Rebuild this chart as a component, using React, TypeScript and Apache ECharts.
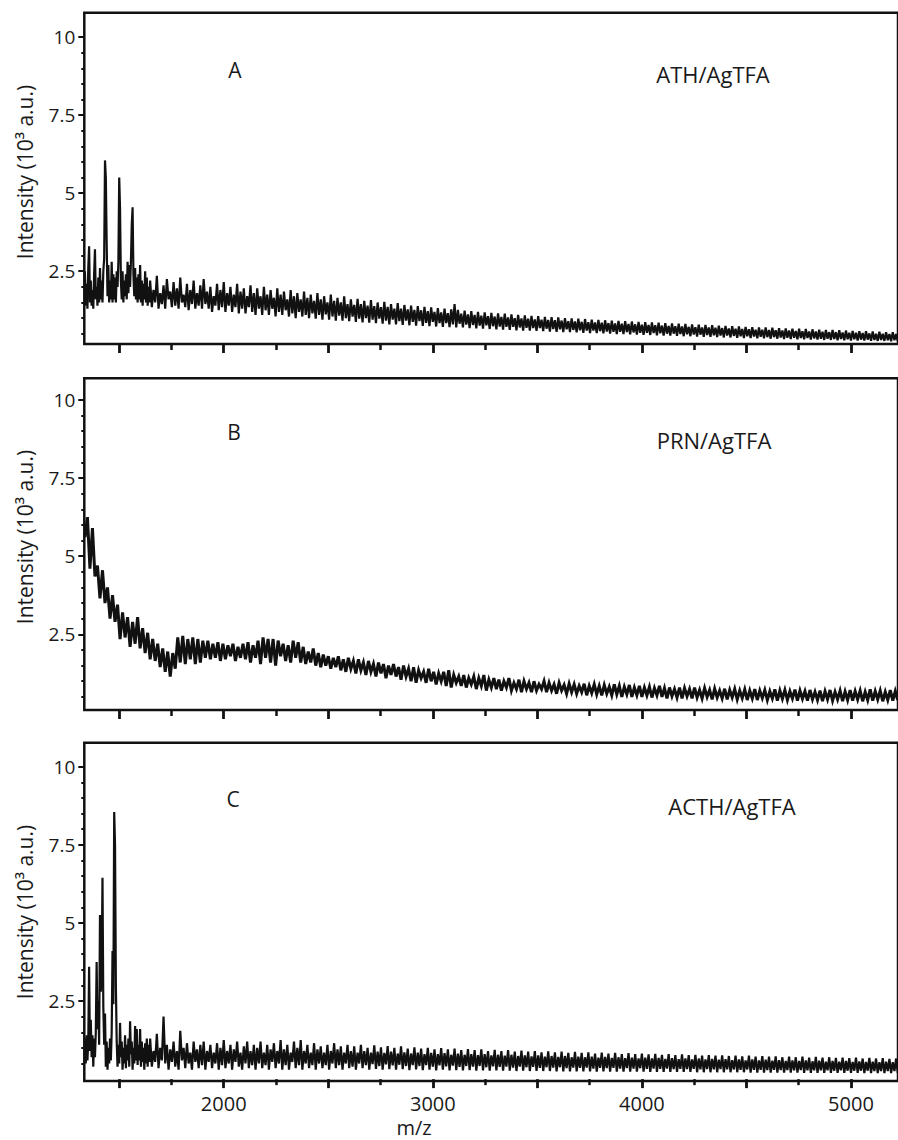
import React, { useEffect, useRef } from "react";
import * as echarts from "echarts";

// Each spectrum is stored as segments on a regular m/z grid:
// value k of a segment sits at start + k * step (m/z).
const LOW_MZ_START = 1336; // fine grid for the peak region
const LOW_MZ_STEP = 4;
const HIGH_MZ_START = 1648; // grid above the peak region
const HIGH_MZ_STEP = 8;
const B_MZ_START = 1336;
const B_MZ_STEP = 12;

// Panel A: ATH/AgTFA intensity (10^3 a.u.), 1336-1644 step 4
const intensityA_low = [
  2.5, 1.4, 2.1, 1.3, 2.6, 3.3, 1.5, 2.2, 1.4, 1.9,
  1.3, 2.4, 3.2, 1.6, 2.0, 1.4, 2.3, 1.5, 2.6, 1.6,
  2.2, 1.5, 2.5, 2.9, 6.05, 5.5, 3.4, 1.7, 2.7, 1.5,
  2.2, 1.6, 2.8, 1.5, 2.4, 1.6, 2.3, 1.5, 2.5, 2.0,
  2.8, 5.5, 4.5, 2.2, 1.6, 2.5, 1.5, 2.2, 1.7, 2.4,
  1.6, 2.8, 1.8, 2.7, 2.0, 2.8, 4.0, 4.55, 2.4, 1.7,
  2.6, 1.6, 2.3, 1.5, 2.4, 1.6, 2.7, 1.5, 2.2, 1.4,
  2.1, 1.6, 2.5, 1.5, 2.3, 1.4, 2.0, 1.5,
];
// Panel A, 1648-5224 step 8
const intensityA_high = [
  2.2, 1.35, 1.9, 1.5, 2.35, 1.3, 1.8, 1.45, 2.05, 1.3, 2.25, 1.6, 1.85, 1.35, 2.15, 1.4,
  1.95, 1.3, 2.3, 1.5, 1.75, 1.35, 2.1, 1.25, 1.9, 1.45, 2.2, 1.3, 1.8, 1.4, 2.05, 1.3,
  2.25, 1.45, 1.85, 1.3, 2.0, 1.2, 1.7, 1.4, 2.1, 1.25, 1.9, 1.35, 2.15, 1.2, 1.8, 1.4,
  2.0, 1.2, 1.75, 1.35, 2.1, 1.15, 1.85, 1.3, 1.95, 1.15, 1.7, 1.35, 2.05, 1.2, 1.8, 1.1,
  1.95, 1.3, 1.7, 1.1, 2.0, 1.25, 1.75, 1.1, 1.9, 1.3, 1.65, 1.05, 1.95, 1.2, 1.75, 1.1,
  1.85, 1.25, 1.6, 1.05, 1.9, 1.15, 1.7, 1.0, 1.8, 1.2, 1.6, 1.05, 1.85, 1.1, 1.65, 1.0,
  1.75, 1.15, 1.55, 0.98, 1.8, 1.1, 1.6, 0.95, 1.7, 1.12, 1.5, 0.95, 1.75, 1.05, 1.55, 0.92,
  1.65, 1.08, 1.5, 0.92, 1.7, 1.0, 1.45, 0.9, 1.6, 1.05, 1.42, 0.88, 1.62, 0.98, 1.45, 0.86,
  1.55, 1.0, 1.4, 0.85, 1.58, 0.95, 1.38, 0.84, 1.5, 0.98, 1.35, 0.82, 1.52, 0.92, 1.36, 0.8,
  1.45, 0.95, 1.3, 0.8, 1.48, 0.9, 1.3, 0.78, 1.42, 0.92, 1.28, 0.77, 1.4, 0.88, 1.26, 0.76,
  1.38, 0.9, 1.25, 0.75, 1.36, 0.85, 1.22, 0.74, 1.34, 0.88, 1.2, 0.73, 1.32, 0.84, 1.18, 0.72,
  1.3, 0.84, 1.16, 0.71, 1.28, 0.8, 1.45, 0.7, 1.26, 0.82, 1.14, 0.7, 1.24, 0.79, 1.12, 0.68,
  1.22, 0.78, 1.1, 0.67, 1.2, 0.76, 1.08, 0.66, 1.18, 0.77, 1.06, 0.65, 1.17, 0.74, 1.05, 0.64,
  1.15, 0.73, 1.04, 0.63, 1.14, 0.72, 1.02, 0.62, 1.12, 0.72, 1.0, 0.61, 1.1, 0.7, 0.99, 0.6,
  1.09, 0.69, 0.98, 0.6, 1.07, 0.68, 0.96, 0.59, 1.06, 0.68, 0.95, 0.58, 1.04, 0.66, 0.94, 0.57,
  1.03, 0.65, 0.93, 0.56, 1.02, 0.64, 0.92, 0.55, 1.0, 0.64, 0.9, 0.55, 0.99, 0.62, 0.89, 0.54,
  0.98, 0.61, 0.88, 0.53, 0.97, 0.6, 0.87, 0.52, 0.95, 0.6, 0.86, 0.52, 0.94, 0.58, 0.85, 0.51,
  0.93, 0.57, 0.84, 0.5, 0.92, 0.56, 0.83, 0.49, 0.91, 0.56, 0.82, 0.49, 0.9, 0.55, 0.81, 0.48,
  0.89, 0.54, 0.8, 0.47, 0.88, 0.53, 0.79, 0.46, 0.87, 0.53, 0.78, 0.46, 0.86, 0.52, 0.77, 0.45,
  0.85, 0.51, 0.76, 0.44, 0.84, 0.5, 0.75, 0.44, 0.83, 0.5, 0.74, 0.43, 0.82, 0.49, 0.73, 0.42,
  0.81, 0.48, 0.72, 0.42, 0.8, 0.47, 0.71, 0.41, 0.79, 0.47, 0.7, 0.4, 0.78, 0.46, 0.7, 0.4,
  0.77, 0.45, 0.69, 0.39, 0.76, 0.44, 0.68, 0.38, 0.75, 0.44, 0.67, 0.38, 0.74, 0.43, 0.66, 0.37,
  0.73, 0.42, 0.65, 0.36, 0.72, 0.42, 0.64, 0.36, 0.71, 0.41, 0.63, 0.35, 0.7, 0.4, 0.63, 0.35,
  0.7, 0.39, 0.62, 0.34, 0.69, 0.39, 0.61, 0.34, 0.68, 0.38, 0.6, 0.33, 0.67, 0.37, 0.6, 0.33,
  0.66, 0.37, 0.59, 0.32, 0.66, 0.36, 0.58, 0.32, 0.65, 0.36, 0.57, 0.31, 0.64, 0.35, 0.57, 0.31,
  0.63, 0.34, 0.56, 0.3, 0.62, 0.34, 0.55, 0.3, 0.62, 0.33, 0.55, 0.29, 0.61, 0.33, 0.54, 0.29,
  0.6, 0.32, 0.53, 0.28, 0.59, 0.32, 0.53, 0.28, 0.58, 0.31, 0.52, 0.28, 0.58, 0.31, 0.51, 0.27,
  0.57, 0.3, 0.5, 0.27, 0.56, 0.3, 0.5, 0.27, 0.55, 0.29, 0.49, 0.26, 0.55, 0.29, 0.49, 0.26,
];

// Panel B: PRN/AgTFA intensity (10^3 a.u.), 1336-5224 step 12
const intensityB = [
  5.6, 6.25, 4.6, 5.9, 4.35, 4.7, 3.65, 4.55, 3.5, 4.0,
  3.0, 3.75, 2.9, 3.45, 2.35, 3.2, 2.4, 3.05, 2.1, 2.9,
  2.2, 3.05, 2.05, 2.7, 1.9, 2.55, 1.7, 2.35, 1.65, 2.2,
  1.45, 2.05, 1.3, 1.95, 1.15, 1.9, 1.4, 2.4, 1.6, 2.45,
  1.55, 2.35, 1.7, 2.4, 1.55, 2.35, 1.6, 2.3, 1.75, 2.3,
  1.7, 2.2, 1.75, 2.25, 1.65, 2.2, 1.7, 2.15, 1.8, 2.2,
  1.65, 2.1, 1.75, 2.2, 1.7, 2.25, 1.6, 2.15, 1.75, 2.3,
  1.55, 2.4, 1.75, 2.35, 1.6, 2.35, 1.5, 2.3, 1.8, 2.2,
  1.65, 2.15, 1.6, 2.3, 1.75, 2.25, 1.6, 2.1, 1.55, 1.95,
  1.6, 2.05, 1.5, 1.9, 1.45, 1.85, 1.5, 1.8, 1.4, 1.75,
  1.45, 1.8, 1.35, 1.7, 1.3, 1.75, 1.4, 1.65, 1.25, 1.7,
  1.35, 1.6, 1.2, 1.65, 1.3, 1.55, 1.15, 1.6, 1.25, 1.55,
  1.1, 1.5, 1.2, 1.55, 1.15, 1.45, 1.05, 1.5, 1.15, 1.4,
  1.0, 1.45, 0.95, 1.35, 1.1, 1.3, 0.95, 1.4, 1.0, 1.3,
  0.9, 1.25, 1.0, 1.3, 0.85, 1.35, 0.8, 1.2, 0.95, 1.15,
  0.85, 1.2, 0.8, 1.1, 0.9, 1.15, 0.75, 1.1, 0.85, 1.2,
  0.7, 1.05, 0.8, 1.1, 0.75,
  1.05, 0.7, 1.0, 0.8, 1.1, 0.7, 0.95, 0.75, 1.05, 0.65,
  1.0, 0.75, 0.95, 0.65, 1.0, 0.7, 0.9, 0.75, 1.0, 0.65,
  0.95, 0.7, 0.9, 0.6, 0.95, 0.7, 0.88, 0.6, 0.92, 0.65,
  0.9, 0.6, 0.85, 0.65, 0.92, 0.55, 0.85, 0.62, 0.9, 0.58,
  0.85, 0.55, 0.88, 0.6, 0.82, 0.55, 0.9, 0.58, 0.85, 0.5,
  0.82, 0.58, 0.88, 0.5, 0.8, 0.55, 0.85, 0.5, 0.8, 0.55,
  0.82, 0.48, 0.78, 0.55, 0.85, 0.5, 0.78, 0.45, 0.8, 0.52,
  0.75, 0.48, 0.8, 0.45, 0.78, 0.52, 0.75, 0.45, 0.8, 0.48,
  0.72, 0.45, 0.78, 0.5, 0.72, 0.42, 0.76, 0.48, 0.7, 0.45,
  0.76, 0.42, 0.72, 0.48, 0.75, 0.42, 0.7, 0.46, 0.74, 0.4,
  0.7, 0.45, 0.75, 0.4, 0.7, 0.46, 0.72, 0.4, 0.68, 0.45,
  0.74, 0.38, 0.7, 0.44, 0.72, 0.4, 0.68, 0.45, 0.73, 0.38,
  0.7, 0.44, 0.68, 0.38, 0.72, 0.42, 0.66, 0.4, 0.7, 0.36,
  0.68, 0.42, 0.72, 0.38, 0.66, 0.42, 0.7, 0.36, 0.67, 0.4,
  0.72, 0.38, 0.68, 0.42, 0.7, 0.36, 0.66, 0.4, 0.74, 0.38,
  0.68, 0.42, 0.7, 0.36, 0.66, 0.4, 0.72, 0.38, 0.68, 0.4,
];

// Panel C: ACTH/AgTFA intensity (10^3 a.u.), 1336-1644 step 4
const intensityC_low = [
  1.3, 0.5, 1.4, 0.6, 1.2, 3.6, 0.9, 1.9, 0.7, 1.4,
  0.4, 1.3, 0.7, 1.5, 3.75, 1.6, 2.5, 1.1, 5.25, 2.8,
  3.4, 6.45, 2.3, 1.1, 2.1, 0.4, 1.2, 0.3, 1.0, 0.5,
  1.3, 0.6, 1.5, 4.1, 2.4, 8.55, 7.5, 3.0, 1.2, 0.4,
  1.1, 0.5, 1.8, 0.7, 1.2, 0.3, 1.0, 0.5, 1.4, 0.35,
  1.1, 0.6, 1.3, 0.4, 1.85, 0.8, 1.2, 0.3, 1.0, 0.5,
  1.7, 0.6, 1.6, 0.45, 1.1, 0.6, 1.6, 0.4, 1.2, 0.55,
  1.0, 0.3, 1.15, 0.5, 1.3, 0.4, 1.1, 0.55,
];
// Panel C, 1648-5224 step 8
const intensityC_high = [
  1.3, 0.4, 0.9, 0.55, 1.45, 0.35, 1.0, 0.6, 2.0, 0.5, 1.1, 0.3, 0.95, 0.55, 1.2, 0.4,
  0.9, 0.3, 1.55, 0.6, 1.0, 0.35, 1.15, 0.5, 0.85, 0.3, 1.2, 0.55, 0.95, 0.35, 1.1, 0.45,
  1.2, 0.3, 0.9, 0.55, 1.1, 0.35, 0.85, 0.5, 1.15, 0.3, 1.0, 0.45, 1.25, 0.35, 0.9, 0.5,
  1.1, 0.3, 0.95, 0.55, 1.2, 0.4, 0.85, 0.3, 1.05, 0.5, 1.2, 0.35, 0.9, 0.45, 1.1, 0.3,
  1.0, 0.5, 1.2, 0.35, 0.85, 0.45, 1.1, 0.3, 0.95, 0.55, 1.15, 0.35, 0.9, 0.5, 1.25, 0.3,
  0.95, 0.45, 1.1, 0.3, 0.85, 0.55, 1.2, 0.35, 1.0, 0.45, 1.25, 0.3, 0.9, 0.5, 1.1, 0.35,
  0.85, 0.45, 1.15, 0.3, 0.95, 0.5, 1.05, 0.35, 0.85, 0.45, 1.1, 0.3, 0.9, 0.5, 1.15, 0.35,
  0.95, 0.45, 1.05, 0.3, 0.85, 0.5, 1.1, 0.35, 0.9, 0.4, 1.05, 0.3, 0.85, 0.5, 1.1, 0.35,
  0.9, 0.45, 1.0, 0.3, 0.85, 0.48, 1.08, 0.33, 0.88, 0.42, 1.02, 0.3, 0.84, 0.47, 1.06, 0.32,
  0.88, 0.44, 1.0, 0.3, 0.82, 0.46, 1.05, 0.32, 0.86, 0.42, 0.98, 0.29, 0.82, 0.45, 1.02, 0.31,
  0.85, 0.42, 0.98, 0.29, 0.8, 0.45, 1.0, 0.3, 0.84, 0.4, 0.95, 0.28, 0.8, 0.44, 0.99, 0.3,
  0.83, 0.41, 0.95, 0.28, 0.78, 0.43, 0.98, 0.29, 0.82, 0.39, 0.93, 0.28, 0.78, 0.42, 0.96, 0.29,
  0.8, 0.4, 0.93, 0.27, 0.77, 0.42, 0.95, 0.28, 0.8, 0.38, 0.9, 0.27, 0.76, 0.41, 0.94, 0.28,
  0.78, 0.39, 0.9, 0.27, 0.75, 0.4, 0.93, 0.27, 0.78, 0.37, 0.88, 0.26, 0.74, 0.4, 0.91, 0.27,
  0.76, 0.38, 0.88, 0.26, 0.73, 0.39, 0.9, 0.26, 0.76, 0.36, 0.86, 0.26, 0.72, 0.38, 0.89, 0.26,
  0.74, 0.37, 0.86, 0.25, 0.71, 0.38, 0.88, 0.25, 0.74, 0.35, 0.84, 0.25, 0.7, 0.37, 0.87, 0.25,
  0.72, 0.36, 0.84, 0.25, 0.7, 0.37, 0.86, 0.25, 0.72, 0.34, 0.82, 0.24, 0.69, 0.36, 0.85, 0.25,
  0.71, 0.35, 0.82, 0.24, 0.68, 0.36, 0.84, 0.24, 0.7, 0.34, 0.8, 0.24, 0.67, 0.35, 0.83, 0.24,
  0.69, 0.34, 0.8, 0.24, 0.66, 0.35, 0.82, 0.24, 0.69, 0.33, 0.79, 0.23, 0.66, 0.34, 0.81, 0.23,
  0.68, 0.33, 0.78, 0.23, 0.65, 0.34, 0.8, 0.23, 0.67, 0.32, 0.77, 0.23, 0.64, 0.33, 0.79, 0.23,
  0.66, 0.32, 0.77, 0.23, 0.63, 0.33, 0.78, 0.22, 0.66, 0.31, 0.75, 0.22, 0.63, 0.32, 0.77, 0.22,
  0.65, 0.31, 0.75, 0.22, 0.62, 0.32, 0.76, 0.22, 0.64, 0.31, 0.74, 0.22, 0.61, 0.31, 0.75, 0.22,
  0.63, 0.3, 0.73, 0.22, 0.6, 0.31, 0.75, 0.21, 0.63, 0.3, 0.72, 0.21, 0.6, 0.3, 0.74, 0.21,
  0.62, 0.29, 0.72, 0.21, 0.59, 0.3, 0.73, 0.21, 0.61, 0.29, 0.7, 0.21, 0.58, 0.29, 0.72, 0.21,
  0.6, 0.28, 0.7, 0.21, 0.58, 0.29, 0.72, 0.2, 0.6, 0.28, 0.69, 0.2, 0.57, 0.28, 0.71, 0.2,
  0.59, 0.28, 0.69, 0.2, 0.56, 0.28, 0.7, 0.2, 0.58, 0.27, 0.68, 0.2, 0.56, 0.28, 0.69, 0.2,
  0.58, 0.27, 0.67, 0.2, 0.55, 0.27, 0.69, 0.2, 0.57, 0.27, 0.66, 0.19, 0.55, 0.27, 0.68, 0.19,
  0.56, 0.26, 0.66, 0.19, 0.54, 0.26, 0.67, 0.19, 0.56, 0.26, 0.65, 0.19, 0.54, 0.26, 0.66, 0.19,
];

// Axis ticks and labels
const xMajorTicks = [1500, 2000, 2500, 3000, 3500, 4000, 4500, 5000];
const xMinorTicks = [1750, 2250, 2750, 3250, 3750, 4250, 4750];
const xTickLabels = [2000, 3000, 4000, 5000];
const yTickLabels = [2.5, 5, 7.5, 10];
const yMinorTicks = [0.5, 1, 1.5, 2, 3, 3.5, 4, 4.5, 5.5, 6, 6.5, 7, 8, 8.5, 9, 9.5];

const panelLetters = ["A", "B", "C"];
const panelSamples = ["ATH/AgTFA", "PRN/AgTFA", "ACTH/AgTFA"];
const yTitle = "Intensity (10\u00B3 a.u.)";
const xTitle = "m/z";

const X_MIN = 1333;
const X_MAX = 5225;

const FONT = "'Open Sans', 'Noto Sans', 'Liberation Sans', sans-serif";
const INK = "#111";
const TEXT = "#1a1a1a";

function toPoints(values: number[], start: number, step: number) {
  return values.map((v, k) => [start + k * step, v]);
}

const panelData = [
  [...toPoints(intensityA_low, LOW_MZ_START, LOW_MZ_STEP), ...toPoints(intensityA_high, HIGH_MZ_START, HIGH_MZ_STEP)],
  toPoints(intensityB, B_MZ_START, B_MZ_STEP),
  [...toPoints(intensityC_low, LOW_MZ_START, LOW_MZ_STEP), ...toPoints(intensityC_high, HIGH_MZ_START, HIGH_MZ_STEP)],
];

const layout = [
  { top: 12.7, height: 331.3, yMin: 0.17, yMax: 10.78, lw: 2.2, letter: [235, 70], sample: [713, 74], titleY: 172 },
  { top: 378.3, height: 331.7, yMin: 0.08, yMax: 10.69, lw: 3.0, letter: [234, 432], sample: [714, 440], titleY: 537 },
  { top: 742.7, height: 338.3, yMin: -0.06, yMax: 10.77, lw: 2.2, letter: [233, 799], sample: [732, 806], titleY: 912 },
];

function buildOption() {
  const grid: any[] = [];
  const xAxis: any[] = [];
  const yAxis: any[] = [];
  const series: any[] = [];
  const graphic: any[] = [];

  layout.forEach((p, i) => {
    grid.push({
      left: 84.3,
      right: -4,
      top: p.top,
      height: p.height,
      show: true,
      borderColor: INK,
      borderWidth: 2.5,
      backgroundColor: "transparent",
    });
    const isLast = i === layout.length - 1;
    xAxis.push({
      type: "value",
      gridIndex: i,
      position: "bottom",
      min: X_MIN,
      max: X_MAX,
      axisLine: { show: false },
      splitLine: { show: false },
      axisTick: {
        show: true,
        customValues: xMajorTicks,
        length: 9,
        lineStyle: { color: INK, width: 2.8 },
      },
      axisLabel: {
        show: isLast,
        customValues: xTickLabels,
        margin: 12,
        fontSize: 20,
        fontFamily: FONT,
        color: TEXT,
        formatter: (v: number) => String(v),
      },
    });
    xAxis.push({
      type: "value",
      gridIndex: i,
      position: "bottom",
      min: X_MIN,
      max: X_MAX,
      axisLine: { show: false },
      splitLine: { show: false },
      axisTick: {
        show: true,
        customValues: xMinorTicks,
        length: 6,
        lineStyle: { color: INK, width: 2.5 },
      },
      axisLabel: { show: false },
    });
    yAxis.push({
      type: "value",
      gridIndex: i,
      position: "left",
      min: p.yMin,
      max: p.yMax,
      axisLine: { show: false },
      splitLine: { show: false },
      axisTick: {
        show: true,
        customValues: yTickLabels,
        length: 6,
        lineStyle: { color: INK, width: 2 },
      },
      axisLabel: {
        show: true,
        customValues: yTickLabels,
        margin: 9,
        fontSize: 19,
        fontFamily: FONT,
        color: TEXT,
        formatter: (v: number) => String(v),
      },
    });
    yAxis.push({
      type: "value",
      gridIndex: i,
      position: "left",
      min: p.yMin,
      max: p.yMax,
      axisLine: { show: false },
      splitLine: { show: false },
      axisTick: {
        show: true,
        customValues: yMinorTicks,
        length: 3,
        lineStyle: { color: INK, width: 2 },
      },
      axisLabel: { show: false },
    });
    series.push({
      type: "line",
      xAxisIndex: 2 * i,
      yAxisIndex: 2 * i,
      data: panelData[i],
      showSymbol: false,
      symbol: "none",
      clip: true,
      lineStyle: { color: INK, width: p.lw, join: "miter", miterLimit: 4 },
      z: 3,
    });
    graphic.push({
      type: "text",
      x: p.letter[0],
      y: p.letter[1],
      style: { text: panelLetters[i], fontSize: 21, fontFamily: FONT, fill: TEXT, align: "center", verticalAlign: "middle" },
    });
    graphic.push({
      type: "text",
      x: p.sample[0],
      y: p.sample[1],
      style: { text: panelSamples[i], fontSize: 22, fontFamily: FONT, fill: TEXT, align: "center", verticalAlign: "middle" },
    });
    graphic.push({
      type: "text",
      x: 25,
      y: p.titleY,
      rotation: Math.PI / 2,
      style: { text: yTitle, fontSize: 21, fontFamily: FONT, fill: TEXT, align: "center", verticalAlign: "middle" },
    });
  });

  graphic.push({
    type: "text",
    x: 414,
    y: 1127,
    style: { text: xTitle, fontSize: 20, fontFamily: FONT, fill: TEXT, align: "center", verticalAlign: "middle" },
  });

  return {
    animation: false,
    backgroundColor: "#fff",
    grid,
    xAxis,
    yAxis,
    series,
    graphic,
  };
}

export default function App() {
  const ref = useRef<HTMLDivElement>(null);
  useEffect(() => {
    if (!ref.current) return;
    const chart = echarts.init(ref.current, null, { renderer: "svg" });
    chart.setOption(buildOption() as any);
    return () => chart.dispose();
  }, []);
  return (
    <div
      ref={ref}
      style={{ position: "absolute", left: 0, top: 0, width: 898, height: 1140, background: "#fff" }}
    />
  );
}
